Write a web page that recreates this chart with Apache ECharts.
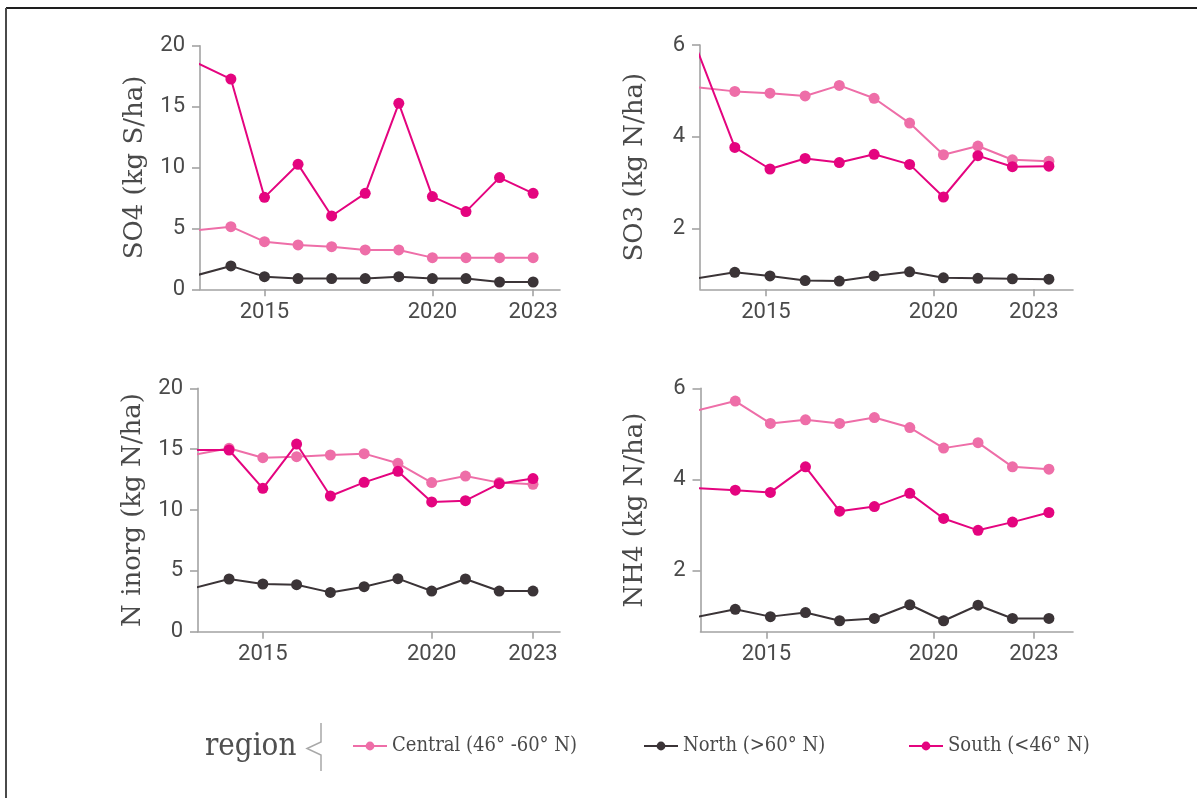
<!DOCTYPE html>
<html>
<head>
<meta charset="utf-8">
<title>Deposition by region</title>
<script src="https://cdn.jsdelivr.net/npm/echarts@6.0.0/dist/echarts.min.js"></script>
<style>
  html, body { margin: 0; padding: 0; background: #ffffff; }
  #chart { width: 1197px; height: 798px; }
</style>
</head>
<body>
<div id="chart"></div>
<script>
// Sampling dates (decimal years); the first entry lies just left of the axis range
const leftYears  = [2013, 2014, 2015, 2016, 2017, 2018, 2019, 2020, 2021, 2022, 2023];
const rightYears = [2012.95, 2014.07, 2015.12, 2016.17, 2017.19, 2018.23, 2019.29, 2020.30, 2021.33, 2022.36, 2023.45];

const yearTicks = [2015, 2020, 2023];

const regionNames  = ['Central (46° -60° N)', 'North (>60° N)', 'South (<46° N)'];
const regionColors = ['#ee6ea8', '#3b3437', '#e4047f'];

// SO4 (kg S/ha)
const so4Central = [4.85, 5.14, 3.91, 3.64, 3.50, 3.23, 3.23, 2.60, 2.60, 2.60, 2.60];
const so4North   = [1.17, 1.92, 1.04, 0.88, 0.88, 0.88, 1.04, 0.88, 0.88, 0.60, 0.60];
const so4South   = [18.58, 17.26, 7.55, 10.26, 6.02, 7.88, 15.27, 7.61, 6.38, 9.17, 7.88];

// SO3 (kg N/ha)
const so3Central = [5.08, 4.99, 4.95, 4.89, 5.12, 4.84, 4.30, 3.61, 3.80, 3.50, 3.47];
const so3North   = [0.92, 1.05, 0.97, 0.87, 0.86, 0.97, 1.06, 0.93, 0.92, 0.91, 0.90];
const so3South   = [5.89, 3.77, 3.30, 3.53, 3.44, 3.62, 3.40, 2.69, 3.59, 3.35, 3.36];

// N inorg (kg N/ha)
const ninCentral = [14.56, 15.07, 14.30, 14.38, 14.52, 14.63, 13.84, 12.25, 12.79, 12.25, 12.11];
const ninNorth   = [3.61, 4.33, 3.92, 3.86, 3.23, 3.70, 4.36, 3.34, 4.33, 3.34, 3.34];
const ninSouth   = [14.93, 14.93, 11.78, 15.42, 11.15, 12.27, 13.18, 10.66, 10.77, 12.16, 12.58];

// NH4 (kg N/ha)
const nh4Central = [5.52, 5.72, 5.23, 5.31, 5.23, 5.36, 5.14, 4.69, 4.81, 4.28, 4.23];
const nh4North   = [1.00, 1.16, 1.00, 1.09, 0.91, 0.96, 1.26, 0.91, 1.25, 0.96, 0.96];
const nh4South   = [3.81, 3.77, 3.72, 4.28, 3.31, 3.41, 3.70, 3.15, 2.89, 3.07, 3.28];

const so4Ticks = [0, 5, 10, 15, 20];
const so3Ticks = [2, 4, 6];
const ninTicks = [0, 5, 10, 15, 20];
const nh4Ticks = [2, 4, 6];

const panels = [
  { title: 'SO4 (kg S/ha)', years: leftYears, series: [so4Central, so4North, so4South],
    yMin: 0, yMax: 20, yTicks: so4Ticks, xMin: 2013.08, xMax: 2023.8,
    box: { left: 200, top: 45.7, width: 360, height: 243.6 } },
  { title: 'SO3 (kg N/ha)', years: rightYears, series: [so3Central, so3North, so3South],
    yMin: 0.68, yMax: 6, yTicks: so3Ticks, xMin: 2013.03, xMax: 2024.17,
    box: { left: 700, top: 45, width: 373, height: 244.3 } },
  { title: 'N inorg (kg N/ha)', years: leftYears, series: [ninCentral, ninNorth, ninSouth],
    yMin: 0, yMax: 20, yTicks: ninTicks, xMin: 2013.08, xMax: 2023.8,
    box: { left: 198, top: 388.3, width: 362, height: 243.4 } },
  { title: 'NH4 (kg N/ha)', years: rightYears, series: [nh4Central, nh4North, nh4South],
    yMin: 0.67, yMax: 6, yTicks: nh4Ticks, xMin: 2013.03, xMax: 2024.17,
    box: { left: 700.5, top: 388.3, width: 372.5, height: 243.4 } }
];

const axisGrey = '#a3a3a3';
const labelGrey = '#4a4a4a';
const tickFont = 'Roboto, sans-serif';
const titleFont = "'DejaVu Serif', serif";
const legendFont = "'DejaVu Serif Condensed', 'DejaVu Serif', serif";

const grid = [], xAxis = [], yAxis = [], series = [];

panels.forEach((p, i) => {
  grid.push(Object.assign({ containLabel: false }, p.box));
  xAxis.push({
    type: 'value', gridIndex: i, min: p.xMin, max: p.xMax,
    axisLine: { show: true, onZero: false, lineStyle: { color: axisGrey, width: 1.6 } },
    axisTick: { show: true, length: 7, customValues: yearTicks, lineStyle: { color: axisGrey, width: 1.6 } },
    axisLabel: { customValues: yearTicks, formatter: v => String(v), margin: 12,
      color: labelGrey, fontFamily: tickFont, fontSize: 22 },
    splitLine: { show: false }
  });
  yAxis.push({
    type: 'value', gridIndex: i, min: p.yMin, max: p.yMax,
    name: p.title, nameLocation: 'middle', nameRotate: 90, nameGap: 52,
    nameTextStyle: { color: labelGrey, fontFamily: titleFont, fontSize: 26 },
    axisLine: { show: true, onZero: false, lineStyle: { color: axisGrey, width: 1.6 } },
    axisTick: { show: true, length: 8, customValues: p.yTicks, lineStyle: { color: axisGrey, width: 1.6 } },
    axisLabel: { customValues: p.yTicks, margin: 15, color: labelGrey,
      fontFamily: tickFont, fontSize: 22, padding: [7, 0, 0, 0] },
    splitLine: { show: false }
  });
  p.series.forEach((vals, k) => {
    series.push({
      type: 'line', name: regionNames[k], xAxisIndex: i, yAxisIndex: i,
      data: p.years.map((yr, j) => [yr, vals[j]]),
      clip: true, symbol: 'circle', symbolSize: 11, showSymbol: true,
      color: regionColors[k],
      itemStyle: { color: regionColors[k] },
      lineStyle: { color: regionColors[k], width: 2 },
      emphasis: { disabled: true },
      z: 2 + k
    });
  });
});

const legendLefts = [352, 643, 908];
const legend = regionNames.map((n, i) => ({
  data: [n], left: legendLefts[i], top: 736, orient: 'horizontal', padding: 0,
  itemWidth: 34, itemHeight: 11, selectedMode: false,
  lineStyle: { width: 2 },
  textStyle: { color: labelGrey, fontFamily: legendFont, fontSize: 20 }
}));

const graphic = [
  // frame edges
  { type: 'line', shape: { x1: 6, y1: 8, x2: 1197, y2: 8 }, style: { stroke: '#1e1e1e', lineWidth: 2 } },
  { type: 'line', shape: { x1: 6, y1: 8, x2: 6, y2: 798 }, style: { stroke: '#4a4a4a', lineWidth: 2 } },
  // legend title and brace
  { type: 'text', left: 205, top: 731,
    style: { text: 'region', fill: '#505050', font: "31px 'DejaVu Serif Condensed', 'DejaVu Serif', serif" } },
  { type: 'polyline',
    shape: { points: [[321, 723], [321, 742], [307, 748.5], [321, 755], [321, 771]] },
    style: { stroke: '#a8a8a8', lineWidth: 1.5, fill: null } }
];

const chart = echarts.init(document.getElementById('chart'), null, { renderer: 'canvas' });
chart.setOption({
  animation: false,
  backgroundColor: '#ffffff',
  grid, xAxis, yAxis, series, legend, graphic
});
</script>
</body>
</html>
